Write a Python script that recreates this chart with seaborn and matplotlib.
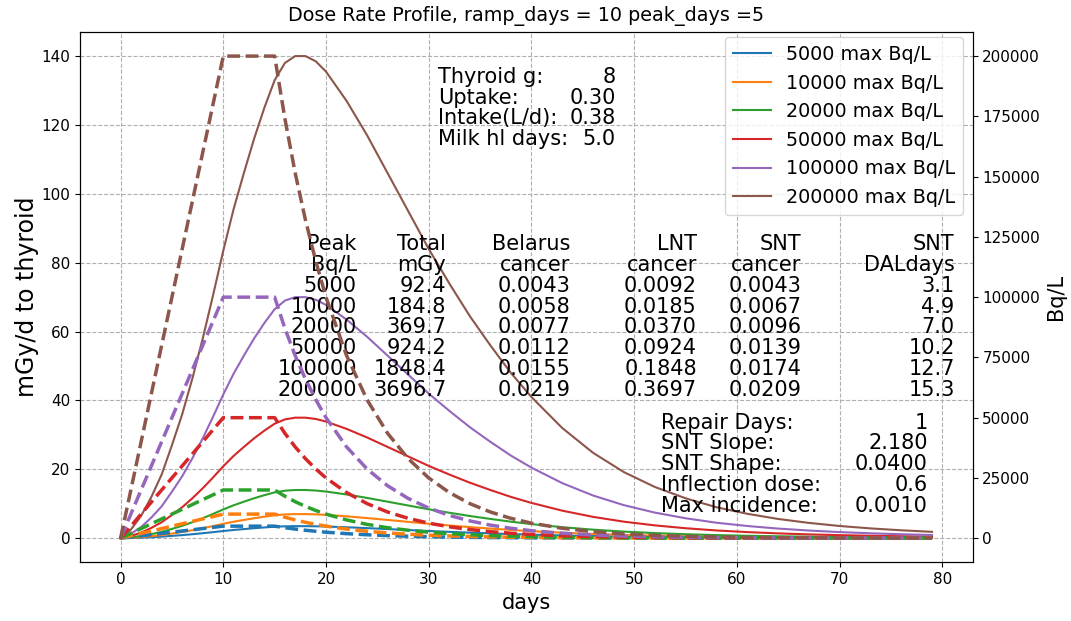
import matplotlib
matplotlib.use("Agg")
import matplotlib.pyplot as plt
import pandas as pd
import seaborn as sns

# sample days (x) shared by every curve
days = [0, 1, 2, 3, 4, 5, 6, 7, 8, 9, 10, 11, 12, 13, 14, 15, 16, 17, 18, 19, 20,
        22, 24, 26, 28, 30, 32, 34, 36, 38, 40,
        43, 46, 49, 52, 55, 58, 61, 64, 67, 70, 73, 76, 79]

peak_bq = [5000, 10000, 20000, 50000, 100000, 200000]

# dose rate to thyroid, mGy/d (left axis, solid)
dose_5000 = [0, 0.06, 0.16, 0.3, 0.46, 0.68, 0.9, 1.16, 1.45, 1.76, 2.09, 2.39, 2.65, 2.9,
             3.13, 3.33, 3.45, 3.5, 3.5, 3.46, 3.39,
             3.18, 2.93, 2.65, 2.38, 2.1, 1.85, 1.61, 1.4, 1.2, 1.03,
             0.8, 0.62, 0.48, 0.37, 0.29, 0.23, 0.18, 0.14, 0.11, 0.09, 0.07, 0.06, 0.05]
dose_10000 = [0, 0.13, 0.33, 0.6, 0.93, 1.35, 1.8, 2.33, 2.9, 3.53, 4.18, 4.78, 5.3, 5.8,
              6.25, 6.65, 6.9, 7.0, 7.0, 6.93, 6.78,
              6.35, 5.85, 5.3, 4.75, 4.2, 3.7, 3.23, 2.8, 2.4, 2.05,
              1.6, 1.24, 0.96, 0.75, 0.58, 0.45, 0.36, 0.28, 0.22, 0.18, 0.14, 0.12, 0.09]
dose_20000 = [0, 0.25, 0.65, 1.2, 1.85, 2.7, 3.6, 4.65, 5.8, 7.05, 8.35, 9.55, 10.6, 11.6,
              12.5, 13.3, 13.8, 14.0, 14.0, 13.85, 13.55,
              12.7, 11.7, 10.6, 9.5, 8.4, 7.4, 6.45, 5.6, 4.8, 4.1,
              3.2, 2.48, 1.92, 1.49, 1.16, 0.9, 0.71, 0.56, 0.45, 0.36, 0.29, 0.23, 0.19]
dose_50000 = [0, 0.63, 1.63, 3.0, 4.63, 6.75, 9.0, 11.63, 14.5, 17.63, 20.88, 23.88, 26.5,
              29.0, 31.25, 33.25, 34.5, 35.0, 35.0, 34.63, 33.88,
              31.75, 29.25, 26.5, 23.75, 21.0, 18.5, 16.13, 14.0, 12.0, 10.25,
              8.0, 6.2, 4.8, 3.73, 2.9, 2.25, 1.78, 1.4, 1.11, 0.89, 0.71, 0.58, 0.46]
dose_100000 = [0, 1.25, 3.25, 6.0, 9.25, 13.5, 18.0, 23.25, 29.0, 35.25, 41.75, 47.75,
               53.0, 58.0, 62.5, 66.5, 69.0, 70.0, 70.0, 69.25, 67.75,
               63.5, 58.5, 53.0, 47.5, 42.0, 37.0, 32.25, 28.0, 24.0, 20.5,
               16.0, 12.4, 9.6, 7.45, 5.8, 4.5, 3.55, 2.8, 2.23, 1.78, 1.43, 1.15, 0.93]
dose_200000 = [0, 2.5, 6.5, 12.0, 18.5, 27.0, 36.0, 46.5, 58.0, 70.5, 83.5, 95.5, 106.0,
               116.0, 125.0, 133.0, 138.0, 140.0, 140.0, 138.5, 135.5,
               127.0, 117.0, 106.0, 95.0, 84.0, 74.0, 64.5, 56.0, 48.0, 41.0,
               32.0, 24.8, 19.2, 14.9, 11.6, 9.0, 7.1, 5.6, 4.45, 3.55, 2.85, 2.3, 1.85]

# milk concentration, Bq/L (right axis, dashed)
milk_5000 = [0, 500, 1000, 1500, 2000, 2500, 3000, 3500, 4000, 4500, 5000,
             5000, 5000, 5000, 5000, 5000, 4350, 3790, 3300, 2875, 2500,
             1895, 1435, 1088, 825, 625, 474, 359, 272, 206, 156,
             103, 68, 45, 30, 20, 13, 8.5, 5.6, 3.7, 2.5, 1.6, 1.1, 0.7]
milk_10000 = [0, 1000, 2000, 3000, 4000, 5000, 6000, 7000, 8000, 9000, 10000,
              10000, 10000, 10000, 10000, 10000, 8700, 7575, 6600, 5750, 5000,
              3790, 2870, 2175, 1650, 1250, 948, 718, 544, 412, 312,
              206, 136, 90, 59, 39, 26, 17, 11, 7.5, 4.9, 3.2, 2.1, 1.4]
milk_20000 = [0, 2000, 4000, 6000, 8000, 10000, 12000, 14000, 16000, 18000, 20000,
              20000, 20000, 20000, 20000, 20000, 17400, 15150, 13200, 11500, 10000,
              7580, 5740, 4350, 3300, 2500, 1895, 1436, 1088, 825, 625,
              412, 272, 179, 118, 78, 52, 34, 22, 15, 10, 6.5, 4.3, 2.8]
milk_50000 = [0, 5000, 10000, 15000, 20000, 25000, 30000, 35000, 40000, 45000, 50000,
              50000, 50000, 50000, 50000, 50000, 43500, 37875, 33000, 28750, 25000,
              18950, 14350, 10875, 8250, 6250, 4740, 3590, 2720, 2060, 1560,
              1030, 680, 448, 295, 195, 129, 85, 56, 37, 24, 16, 11, 7]
milk_100000 = [0, 10000, 20000, 30000, 40000, 50000, 60000, 70000, 80000, 90000, 100000,
               100000, 100000, 100000, 100000, 100000, 87000, 75750, 66000, 57500, 50000,
               37900, 28700, 21750, 16500, 12500, 9475, 7180, 5440, 4125, 3125,
               2060, 1360, 895, 590, 390, 258, 170, 112, 75, 49, 32, 21, 14]
milk_200000 = [0, 20000, 40000, 60000, 80000, 100000, 120000, 140000, 160000, 180000,
               200000, 200000, 200000, 200000, 200000, 200000, 174000, 151500, 132000,
               115000, 100000,
               75800, 57400, 43500, 33000, 25000, 18950, 14360, 10880, 8250, 6250,
               4120, 2720, 1790, 1180, 780, 515, 340, 225, 150, 98, 65, 43, 28]

dose_series = [dose_5000, dose_10000, dose_20000, dose_50000, dose_100000, dose_200000]
milk_series = [milk_5000, milk_10000, milk_20000, milk_50000, milk_100000, milk_200000]

table_cols = [
    "Peak\nBq/L\n5000\n10000\n20000\n50000\n100000\n200000",
    "Total\nmGy\n92.4\n184.8\n369.7\n924.2\n1848.4\n3696.7",
    "Belarus\ncancer\n0.0043\n0.0058\n0.0077\n0.0112\n0.0155\n0.0219",
    "LNT\ncancer\n0.0092\n0.0185\n0.0370\n0.0924\n0.1848\n0.3697",
    "SNT\ncancer\n0.0043\n0.0067\n0.0096\n0.0139\n0.0174\n0.0209",
    "SNT\nDALdays\n3.1\n4.9\n7.0\n10.2\n12.7\n15.3",
]
table_right = [23.0, 31.7, 43.8, 56.1, 66.3, 81.2]

labels = [f"{p} max Bq/L" for p in peak_bq]
dose_df = pd.DataFrame({
    "day": days * len(peak_bq),
    "val": sum(dose_series, []),
    "series": [lab for lab in labels for _ in days],
})
milk_df = pd.DataFrame({
    "day": days * len(peak_bq),
    "val": sum(milk_series, []),
    "series": [lab for lab in labels for _ in days],
})
palette = dict(zip(labels, sns.color_palette("tab10", 6)))

fig = plt.figure(figsize=(10.71, 6.21), dpi=100)
ax = fig.add_axes([0.0747, 0.0945, 0.8334, 0.854])
ax2 = ax.twinx()

sns.lineplot(dose_df, x="day", y="val", hue="series", hue_order=labels,
             palette=palette, linewidth=1.5, ax=ax)
sns.lineplot(milk_df, x="day", y="val", hue="series", hue_order=labels,
             palette=palette, linewidth=2.5, linestyle="--", legend=False, ax=ax2)

ax.grid(True, linestyle="--", color="#b0b0b0", linewidth=0.8)
ax.set_xticks(range(0, 81, 10))
ax.set_yticks(range(0, 141, 20))
ax2.set_yticks(range(0, 200001, 25000))
ax.tick_params(labelsize=11)
ax2.tick_params(labelsize=11)
ax.set_xlabel("days", fontsize=15)
ax.set_ylabel("mGy/d to thyroid", fontsize=17, labelpad=2)
ax2.set_ylabel("Bq/L", fontsize=15)
ax.set_title("Dose Rate Profile, ramp_days = 10 peak_days =5", fontsize=13.8, pad=8)

h, l = ax.get_legend_handles_labels()
ax.legend(h, l, loc="upper right", bbox_to_anchor=(1, 1.008), fontsize=13.8)

fs = 15
ls = 1.05
ax.text(30.9, 136.9, "Thyroid g:\nUptake:\nIntake(L/d):\nMilk hl days:",
        ha="left", va="top", fontsize=fs, linespacing=ls)
ax.text(48.2, 136.9, "8\n0.30\n0.38\n5.0", ha="right", va="top",
        multialignment="right", fontsize=fs, linespacing=ls)
for txt, xr in zip(table_cols, table_right):
    ax.text(xr, 88.3, txt, ha="right", va="top", multialignment="right",
            fontsize=fs, linespacing=ls)
ax.text(52.6, 36.5, "Repair Days:\nSNT Slope:\nSNT Shape:\nInflection dose:\nMax incidence:",
        ha="left", va="top", fontsize=fs, linespacing=ls)
ax.text(78.6, 36.5, "1\n2.180\n0.0400\n0.6\n0.0010", ha="right", va="top",
        multialignment="right", fontsize=fs, linespacing=ls)

fig.savefig("out.png", dpi=100)
